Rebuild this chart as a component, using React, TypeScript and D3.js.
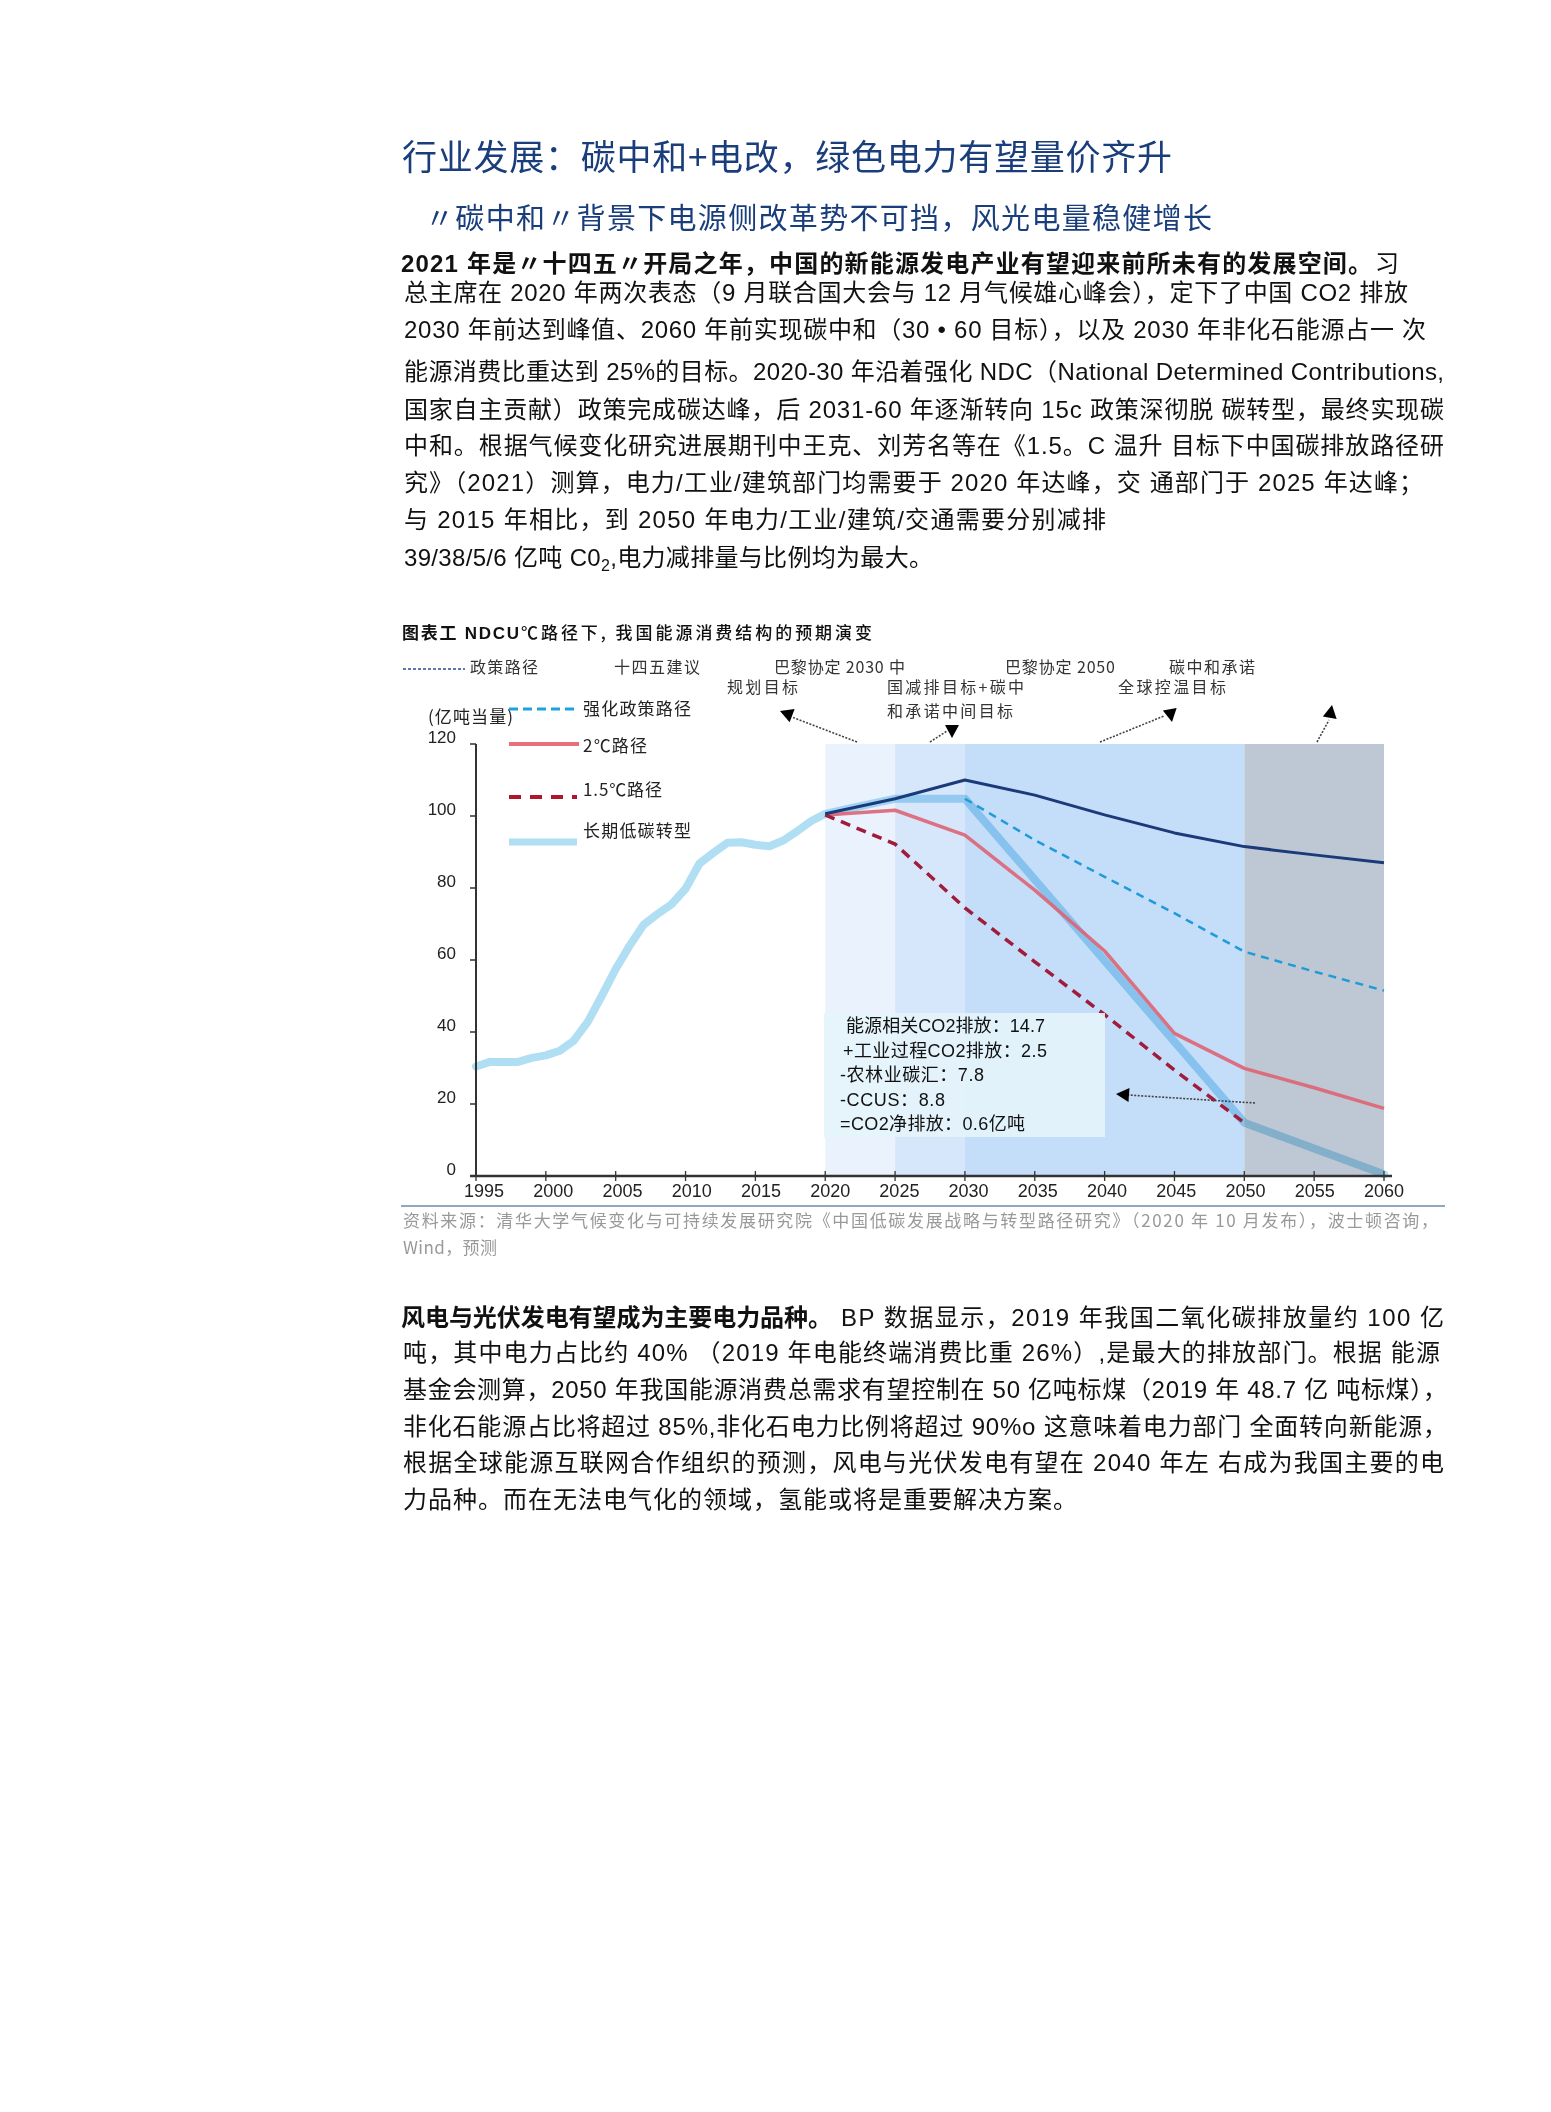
import React from "react";
import * as d3 from "d3";

// ---------- chart data ----------
const histYears = [1995, 1996, 1997, 1998, 1999, 2000, 2001, 2002, 2003, 2004, 2005, 2006, 2007, 2008, 2009, 2010, 2011, 2012, 2013, 2014, 2015, 2016, 2017, 2018, 2019, 2020];
const histValues = [30.4, 31.7, 31.7, 31.7, 32.8, 33.5, 34.8, 37.6, 42.8, 50.0, 57.5, 64.0, 69.8, 72.8, 75.5, 79.8, 86.8, 89.8, 92.6, 92.7, 92.0, 91.6, 93.2, 95.8, 98.6, 100.6];
const lowCarbonYears = [2020, 2022, 2024, 2025, 2030, 2050, 2060];
const lowCarbonValues = [100.6, 102.3, 104.0, 104.8, 104.8, 14.8, 0.5];
const policyYears = [2020, 2025, 2030, 2035, 2040, 2045, 2050, 2055, 2060];
const policyValues = [100.6, 104.8, 110, 105.8, 100.3, 95.3, 91.5, 89.2, 87];
const enhancedYears = [2030, 2035, 2040, 2045, 2050, 2055, 2060];
const enhancedValues = [104.8, 93.3, 83.1, 73, 62.3, 56.8, 51.5];
const twoDegYears = [2020, 2025, 2030, 2035, 2040, 2045, 2050, 2055, 2060];
const twoDegValues = [100.3, 101.6, 94.7, 79.4, 62.5, 39.6, 29.9, 24.5, 18.8];
const onePointFiveYears = [2020, 2025, 2030, 2035, 2040, 2045, 2050];
const onePointFiveValues = [100.3, 92.2, 74.5, 59.5, 44.8, 29.4, 14.8];

const bandStarts = [2020, 2025, 2030, 2050];
const bandEnds = [2025, 2030, 2050, 2060];
const bandColors = ["#EAF2FD", "#D6E7FB", "#C4DDF8", "#BEC8D4"];

const xTicks = [1995, 2000, 2005, 2010, 2015, 2020, 2025, 2030, 2035, 2040, 2045, 2050, 2055, 2060];
const yTicks = [0, 20, 40, 60, 80, 100, 120];

const legendLabels = ["强化政策路径", "2℃路径", "1.5℃路径", "长期低碳转型"];
const topLabels = ["政策路径", "十四五建议", "巴黎协定 2030 中", "规划目标", "国减排目标+碳中", "和承诺中间目标", "巴黎协定 2050", "全球控温目标", "碳中和承诺"];
const boxLines = ["能源相关CO2排放：14.7", "+工业过程CO2排放：2.5", "-农林业碳汇：7.8", "-CCUS：8.8", "=CO2净排放：0.6亿吨"];

const titleText = "行业发展：碳中和+电改，绿色电力有望量价齐升";
const subtitleText = "〃碳中和〃背景下电源侧改革势不可挡，风光电量稳健增长";
const para1Bold = "2021 年是〃十四五〃开局之年，中国的新能源发电产业有望迎来前所未有的发展空间。";
const para1Lines = [
  "习",
  "总主席在 2020 年两次表态（9 月联合国大会与 12 月气候雄心峰会），定下了中国 CO2 排放",
  "2030 年前达到峰值、2060 年前实现碳中和（30 • 60 目标），以及 2030 年非化石能源占一 次",
  "能源消费比重达到 25%的目标。2020-30 年沿着强化 NDC（National Determined Contributions,",
  "国家自主贡献）政策完成碳达峰，后 2031-60 年逐渐转向 15c 政策深彻脱 碳转型，最终实现碳",
  "中和。根据气候变化研究进展期刊中王克、刘芳名等在《1.5。C 温升 目标下中国碳排放路径研",
  "究》（2021）测算，电力/工业/建筑部门均需要于 2020 年达峰，交 通部门于 2025 年达峰；",
  "与 2015 年相比，到 2050 年电力/工业/建筑/交通需要分别减排",
];
const para1Last = ["39/38/5/6 亿吨 C0", "2", ",电力减排量与比例均为最大。"];
const chartTitleBold = "图表工 NDCU";
const chartTitleRest = "℃路径下, 我国能源消费结构的预期演变";
const sourceLines = ["资料来源：清华大学气候变化与可持续发展研究院《中国低碳发展战略与转型路径研究》（2020 年 10 月发布），波士顿咨询，", "Wind，预测"];
const para2Bold = "风电与光伏发电有望成为主要电力品种。";
const para2Lines = [
  "BP 数据显示，2019 年我国二氧化碳排放量约 100 亿",
  "吨，其中电力占比约 40% （2019 年电能终端消费比重 26%）,是最大的排放部门。根据  能源",
  "基金会测算，2050 年我国能源消费总需求有望控制在 50 亿吨标煤（2019 年 48.7 亿 吨标煤），",
  "非化石能源占比将超过 85%,非化石电力比例将超过 90%o 这意味着电力部门 全面转向新能源，",
  "根据全球能源互联网合作组织的预测，风电与光伏发电有望在 2040 年左  右成为我国主要的电",
  "力品种。而在无法电气化的领域，氢能或将是重要解决方案。",
];

const SANS = "'Liberation Sans', Arial, 'Noto Sans CJK SC', sans-serif";
const CJK = "'Noto Sans CJK SC', 'Liberation Sans', sans-serif";

function T(props: any) {
  const { x, x2, y, size, weight, fill, family, children, adjust } = props;
  return (
    <text
      x={x}
      y={y}
      fontSize={size}
      fontWeight={weight || 400}
      fill={fill || "#111"}
      fontFamily={family || SANS}
      textLength={x2 !== undefined ? x2 - x : undefined}
      lengthAdjust={adjust || "spacing"}
    >
      {children}
    </text>
  );
}

function Arrow(props: any) {
  const { tail, end, tip, angle } = props;
  const size = 13;
  const w = 7;
  const a = (angle * Math.PI) / 180;
  const dx = Math.cos(a), dy = Math.sin(a);
  const bx = tip[0] - dx * size, by = tip[1] - dy * size;
  const pts = [
    [tip[0], tip[1]],
    [bx - dy * w, by + dx * w],
    [bx + dy * w, by - dx * w],
  ];
  return (
    <g>
      <line x1={tail[0]} y1={tail[1]} x2={end[0]} y2={end[1]} stroke="#444" strokeWidth={1.6} strokeDasharray="2,1.5" />
      <polygon points={pts.map((p) => p.join(",")).join(" ")} fill="#000" />
    </g>
  );
}

export default function App() {
  const x = d3.scaleLinear().domain([1995, 2060]).range([476, 1384]);
  const xl = d3.scaleLinear().domain([1995, 2060]).range([484, 1384]);
  const y = d3.scaleLinear().domain([0, 120]).range([1176, 744]);
  const line = d3
    .line<[number, number]>()
    .x((d) => x(d[0]))
    .y((d) => y(d[1]));
  const zip = (a: number[], b: number[]) => a.map((v, i) => [v, b[i]] as [number, number]);

  const lowCarbon = zip(histYears, histValues).concat(zip(lowCarbonYears, lowCarbonValues).slice(1));

  const p1x2 = [1408, 1426, 1444, 1444, 1444, 1423, 1106];
  const p1y = [293, 330, 372, 410, 446, 483, 520];
  const p2y = [1318, 1353, 1390, 1427, 1463, 1500];
  const p2x2 = [1444, 1440, 1447, 1447, 1444, 1077];
  const BODY = 24;

  const legY = [709, 744, 797, 842];
  const legTextY = [709, 746, 790, 831];
  const legTextX2 = [691, 647, 662, 691];

  const topPos = [
    [470, 538, 667],
    [614, 700, 667],
    [774, 905, 667],
    [727, 798, 687],
    [887, 1024, 687],
    [887, 1013, 711],
    [1005, 1115, 667],
    [1118, 1226, 687],
    [1169, 1255, 667],
  ];
  const boxX = [846, 843, 840, 840, 840];
  const boxX2 = [1045, 1047, 984, 945, 1025];

  return (
    <svg width={1551} height={2112} style={{ position: "absolute", left: 0, top: 0, background: "#fff" }} fontFamily={SANS}>
      <rect x={0} y={0} width={1551} height={2112} fill="#fff" />
      {/* headings */}
      <T x={402} x2={1172} y={170} size={35} fill="#1A3E7C" family={CJK}>{titleText}</T>
      <T x={425} x2={1212} y={229} size={29} fill="#1A3E7C" family={CJK}>{subtitleText}</T>

      {/* paragraph 1 */}
      <T x={401} x2={1372} y={272} size={BODY} weight={700}>{para1Bold}</T>
      <T x={1375} x2={1399} y={272} size={BODY}>{para1Lines[0]}</T>
      {para1Lines.slice(1).map((s, i) => (
        <T key={i} x={404} x2={p1x2[i]} y={p1y[i] + 8} size={BODY}>{s}</T>
      ))}
      <text x={404} y={566} fontSize={BODY} fill="#111" textLength={529} lengthAdjust="spacing">
        {para1Last[0]}
        <tspan fontSize={16} dy={5}>{para1Last[1]}</tspan>
        <tspan dy={-5}>{para1Last[2]}</tspan>
      </text>

      {/* chart title */}
      <T x={402} x2={519} y={639} size={17} weight={700}>{chartTitleBold}</T>
      <T x={521} x2={872} y={639} size={17} weight={500} family={CJK}>{chartTitleRest}</T>

      {/* bands */}
      {bandStarts.map((s, i) => (
        <rect key={i} x={x(s)} y={y(120)} width={x(bandEnds[i]) - x(s)} height={y(0) - y(120)} fill={bandColors[i]} />
      ))}

      {/* lines */}
      <path d={line(lowCarbon) || ""} fill="none" stroke="#B0DFF4" strokeWidth={8} strokeLinejoin="round" strokeLinecap="round" style={{ mixBlendMode: "multiply" }} />
      <path d={line(zip(twoDegYears, twoDegValues)) || ""} fill="none" stroke="#DE6474" strokeWidth={3.5} strokeOpacity={0.9} strokeLinejoin="round" />
      <path d={line(zip(onePointFiveYears, onePointFiveValues)) || ""} fill="none" stroke="#A01C3A" strokeWidth={3.5} strokeDasharray="10,7" />
      <path d={line(zip(enhancedYears, enhancedValues)) || ""} fill="none" stroke="#1E9BD8" strokeWidth={2.5} strokeDasharray="8,6" />
      <path d={line(zip(policyYears, policyValues)) || ""} fill="none" stroke="#1A3A7A" strokeWidth={3} strokeLinejoin="round" />

      {/* info box */}
      <rect x={824} y={1013} width={281} height={124} fill="#E6F4FB" fillOpacity={0.9} />
      {boxLines.map((s, i) => (
        <T key={i} x={boxX[i]} x2={boxX2[i]} y={1032 + i * 24.5} size={18} fill="#111">{s}</T>
      ))}
      <Arrow tail={[1255, 1103]} end={[1128, 1095]} tip={[1116, 1094]} angle={184} />

      {/* axes */}
      <line x1={476} y1={744} x2={476} y2={1176} stroke="#333" strokeWidth={2} />
      <line x1={470} y1={1176} x2={1392} y2={1176} stroke="#333" strokeWidth={2.5} />
      {yTicks.map((t) => (
        <g key={t}>
          <line x1={470} y1={y(t)} x2={476} y2={y(t)} stroke="#333" strokeWidth={1.5} />
          <text x={456} y={y(t) - 1} fontSize={17} textAnchor="end" fill="#222">{t}</text>
        </g>
      ))}
      {xTicks.map((t) => (
        <g key={t}>
          <line x1={x(t)} y1={1171} x2={x(t)} y2={1181} stroke="#333" strokeWidth={1.3} />
          <text x={xl(t)} y={1197} fontSize={18} textAnchor="middle" fill="#222">{t}</text>
        </g>
      ))}

      {/* legend */}
      <T x={428} x2={513} y={723} size={17} family={CJK} fill="#222">(亿吨当量)</T>
      <line x1={509} y1={legY[0]} x2={576} y2={legY[0]} stroke="#1AA3E0" strokeWidth={3} strokeDasharray="9,5" />
      <line x1={509} y1={legY[1]} x2={579} y2={legY[1]} stroke="#E8707C" strokeWidth={4} />
      <line x1={509} y1={legY[2]} x2={577} y2={legY[2]} stroke="#B0162B" strokeWidth={4} strokeDasharray="12,9" />
      <line x1={509} y1={legY[3]} x2={577} y2={legY[3]} stroke="#B0DFF4" strokeWidth={7} />
      {legendLabels.map((s, i) => (
        <T key={i} x={583} x2={legTextX2[i]} y={legTextY[i] + 6} size={17} family={CJK} fill="#222">{s}</T>
      ))}

      {/* top annotations */}
      <line x1={403} y1={669} x2={465} y2={669} stroke="#2B4C8C" strokeWidth={1.5} strokeDasharray="3,2" />
      {topLabels.map((s, i) => (
        <T key={i} x={topPos[i][0]} x2={topPos[i][1]} y={topPos[i][2] + 6} size={16} family={CJK} fill="#333">{s}</T>
      ))}
      <Arrow tail={[857, 742]} end={[792, 717]} tip={[780, 711]} angle={201} />
      <Arrow tail={[930, 742]} end={[947, 731]} tip={[952, 738]} angle={90} />
      <Arrow tail={[1100, 742]} end={[1164, 716]} tip={[1172, 722]} angle={80} />
      <Arrow tail={[1317, 742]} end={[1329, 720]} tip={[1332, 705]} angle={-80} />

      {/* source */}
      <line x1={401} y1={1206} x2={1445} y2={1206} stroke="#8FA8C2" strokeWidth={2} />
      <T x={403} x2={1438} y={1227} size={17} fill="#999" family={CJK}>{sourceLines[0]}</T>
      <T x={403} x2={497} y={1254} size={17} fill="#999" family={CJK}>{sourceLines[1]}</T>

      {/* paragraph 2 */}
      <T x={401} x2={832} y={p2y[0] + 8} size={BODY} weight={700}>{para2Bold}</T>
      <T x={841} x2={p2x2[0]} y={p2y[0] + 8} size={BODY}>{para2Lines[0]}</T>
      {para2Lines.slice(1).map((s, i) => (
        <T key={i} x={403} x2={p2x2[i + 1]} y={p2y[i + 1] + 8} size={BODY}>{s}</T>
      ))}
    </svg>
  );
}
